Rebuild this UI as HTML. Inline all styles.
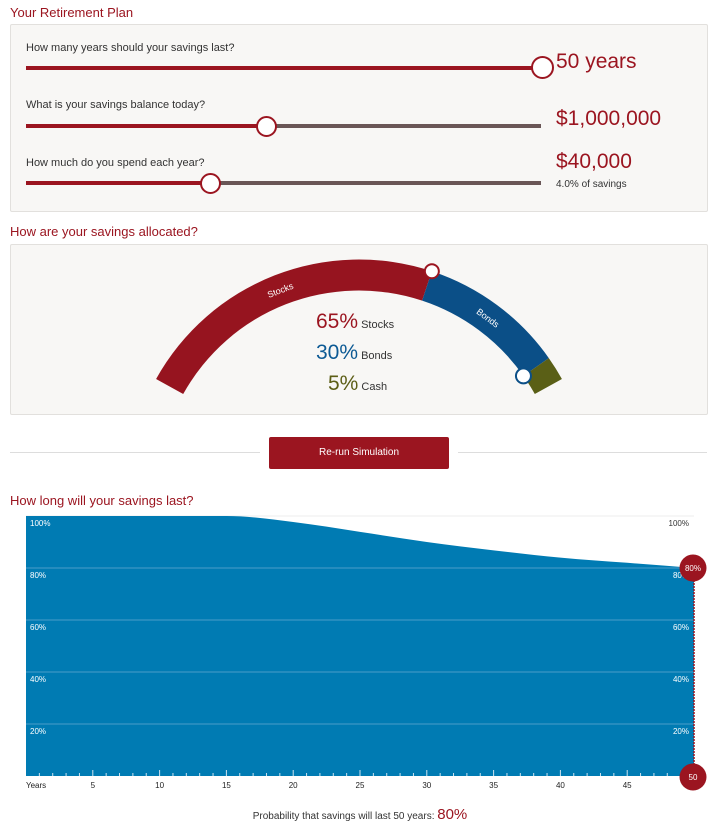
<!DOCTYPE html>
<html><head><meta charset="utf-8">
<style>
body{margin:0;width:720px;height:826px;background:#fff;font-family:"Liberation Sans",Arial,sans-serif;position:relative;overflow:hidden;color:#333}
.h{position:absolute;left:10px;color:#9b1520;font-size:13px}
.panel{position:absolute;left:10px;width:696px;background:#f8f7f5;border:1px solid #e2e0dd;border-radius:2px}
.lbl{position:absolute;left:26px;font-size:11px;color:#333}
.track{position:absolute;left:26px;width:515px;height:4px;background:#6a5656}
.fill{position:absolute;left:0;top:0;height:4px;background:#9b1520}
.knob{position:absolute;width:17px;height:17px;border:2px solid #9b1520;border-radius:50%;background:#fff;top:-8.5px;margin-left:-10.5px}
.val{position:absolute;left:556px;color:#9b1520;font-size:21px}
</style></head><body>
<div class="h" style="top:5px">Your Retirement Plan</div>
<div class="panel" style="top:24px;height:186px"></div>
<div class="lbl" style="top:42px">How many years should your savings last?</div>
<div class="track" style="top:66px"><div class="fill" style="width:515px"></div><div class="knob" style="left:515px;top:-10px;width:19px;height:19px"></div></div>
<div class="val" style="top:50px">50 years</div>
<div class="lbl" style="top:99px">What is your savings balance today?</div>
<div class="track" style="top:124px"><div class="fill" style="width:240px"></div><div class="knob" style="left:240px"></div></div>
<div class="val" style="top:107px">$1,000,000</div>
<div class="lbl" style="top:157px">How much do you spend each year?</div>
<div class="track" style="top:181px"><div class="fill" style="width:184px"></div><div class="knob" style="left:184px"></div></div>
<div class="val" style="top:150px">$40,000</div>
<div style="position:absolute;left:556px;top:179px;font-size:10px">4.0% of savings</div>

<div class="h" style="top:224px">How are your savings allocated?</div>
<div class="panel" style="top:244px;height:169px"></div>
<svg id="gauge" style="position:absolute;left:0;top:0" width="720" height="420"></svg>
<div style="position:absolute;left:300px;top:308px;width:120px;font-size:11px;line-height:27px">
<div style="padding-left:16px"><span style="color:#9b1520;font-size:21px">65%</span> Stocks</div>
<div style="padding-left:16px"><span style="color:#0d5a94;font-size:21px">30%</span> Bonds</div>
<div style="padding-left:28px"><span style="color:#5c5e16;font-size:21px">5%</span> Cash</div>
</div>

<div style="position:absolute;left:10px;top:452px;width:250px;height:1px;background:#ddd"></div>
<div style="position:absolute;left:458px;top:452px;width:249px;height:1px;background:#ddd"></div>
<div style="position:absolute;left:269px;top:437px;width:180px;height:32px;background:#9b1520;color:#fff;font-size:10px;line-height:32px;text-align:center;border-radius:2px">Re-run Simulation</div>

<div class="h" style="top:493px">How long will your savings last?</div>
<svg id="chart" style="position:absolute;left:0;top:500px" width="720" height="326"></svg>
<div style="position:absolute;left:0;width:720px;top:806px;text-align:center;font-size:10px">Probability that savings will last 50 years: <span style="color:#9b1520;font-size:15px">80%</span></div>

<script>
// allocation
const allocNames=["Stocks","Bonds","Cash"];
const allocValues=[65,30,5];
const allocColors=["#96141f","#0b4f87","#5a5f16"];
// survival chart
const years=[0,5,10,15,20,25,30,35,40,45,50];
const survival=[100,100,100,100,97.7,93.9,90,86.8,84,82,80];
const yTicks=[20,40,60,80,100];
const xTicks=[5,10,15,20,25,30,35,40,45];

const NS="http://www.w3.org/2000/svg";
function mk(p,t,a){const e=document.createElementNS(NS,t);for(const k in a)e.setAttribute(k,a[k]);p.appendChild(e);return e;}

// gauge
const g=document.getElementById('gauge');
const cx=359,cy=491.5,R=232,r=201,a0=-61,span=122;
function pt(rad,deg){const a=deg*Math.PI/180;return [cx+rad*Math.sin(a),cy-rad*Math.cos(a)];}
let acc=0;const bounds=[];
allocValues.forEach((v,i)=>{
 const s=a0+span*acc/100;acc+=v;const e=a0+span*acc/100;bounds.push(e);
 const p1=pt(R,s),p2=pt(R,e),p3=pt(r,e),p4=pt(r,s);
 const path=mk(g,'path',{d:`M${p1[0]},${p1[1]}A${R},${R} 0 0 1 ${p2[0]},${p2[1]}L${p3[0]},${p3[1]}A${r},${r} 0 0 0 ${p4[0]},${p4[1]}Z`,fill:allocColors[i]});
 
 
 if(v>=15){const m=(s+e)/2;const q=pt(216,m);
  const t=mk(g,'text',{x:q[0],y:q[1]+3,fill:'#fff','font-size':9,'text-anchor':'middle',transform:`rotate(${m} ${q[0]} ${q[1]})`});t.textContent=allocNames[i];
  
  }
});
const k1=pt(R,bounds[0]),k2=pt(r,bounds[1]);
const kn1=mk(g,'circle',{cx:k1[0],cy:k1[1],r:7,fill:'#fff',stroke:'#9b1520','stroke-width':2});


const kn2=mk(g,'circle',{cx:k2[0],cy:k2[1],r:7.5,fill:'#fff',stroke:'#0b4f87','stroke-width':2});



// chart (svg top offset 500)
const c=document.getElementById('chart');
const X0=26,X1=694,Y0=276,Y100=16;
const xs=y=>X0+(X1-X0)*y/50, ys=v=>Y0-(Y0-Y100)*v/100;
mk(c,'line',{x1:X0,x2:X1,y1:Y100,y2:Y100,stroke:'#eee','stroke-width':1});
const P=years.map((y,i)=>[xs(y),ys(survival[i])]);
// monotone cubic tangents
const n=P.length,dk=[],m=[];
for(let i=0;i<n-1;i++)dk.push((P[i+1][1]-P[i][1])/(P[i+1][0]-P[i][0]));
for(let i=0;i<n;i++){
 if(i==0)m.push(dk[0]);else if(i==n-1)m.push(dk[n-2]);
 else m.push(dk[i-1]*dk[i]<=0?0:(dk[i-1]+dk[i])/2);
}
for(let i=0;i<n-1;i++){if(dk[i]==0){m[i]=0;m[i+1]=0;}}
let d=`M${X0},${Y0}L${P[0][0]},${P[0][1]}`;
for(let i=0;i<n-1;i++){const h=(P[i+1][0]-P[i][0])/3;
 d+=`C${P[i][0]+h},${P[i][1]+m[i]*h} ${P[i+1][0]-h},${P[i+1][1]-m[i+1]*h} ${P[i+1][0]},${P[i+1][1]}`;}
d+=`L${X1},${Y0}Z`;
const area=mk(c,'path',{d,fill:'#007bb3'});


yTicks.forEach(v=>{
 if(v<100){const gl=mk(c,'line',{x1:X0,x2:X1,y1:ys(v),y2:ys(v),stroke:'#4a9cc8','stroke-width':1});
  
  }
 const tl=mk(c,'text',{x:30,y:ys(v)+10,fill:'#fff','font-size':8});tl.textContent=v+'%';
 
 
 const tr=mk(c,'text',{x:689,y:ys(v)+10,fill:v==100?'#333':'#fff','font-size':8,'text-anchor':'end'});tr.textContent=v+'%';
 
 
});
for(let y=1;y<50;y++){const tk=mk(c,'line',{x1:xs(y),x2:xs(y),y1:Y0,y2:Y0-(y%5?3:6),stroke:'#cfe3ef','stroke-width':1});
 
 }
const yl=mk(c,'text',{x:26,y:288,'font-size':8,fill:'#222'});yl.textContent='Years';


xTicks.forEach(v=>{const t=mk(c,'text',{x:xs(v),y:288,'font-size':8,fill:'#222','text-anchor':'middle'});t.textContent=v;
 
 });
const last=survival[survival.length-1];
const dl=mk(c,'line',{x1:X1,x2:X1,y1:ys(last),y2:Y0,stroke:'#9b1520','stroke-width':1.5,'stroke-dasharray':'2,1'});


const b1=mk(c,'circle',{cx:X1-1,cy:ys(last),r:13.5,fill:'#9b1520'});


const bt=mk(c,'text',{x:X1-1,y:ys(last)+3,'font-size':8,fill:'#fff','text-anchor':'middle'});bt.textContent=last+'%';
const b2=mk(c,'circle',{cx:X1-1,cy:Y0+1,r:13.5,fill:'#9b1520'});


const bt2=mk(c,'text',{x:X1-1,y:Y0+4,'font-size':8,fill:'#fff','text-anchor':'middle'});bt2.textContent=years[years.length-1];
</script>
</body></html>
